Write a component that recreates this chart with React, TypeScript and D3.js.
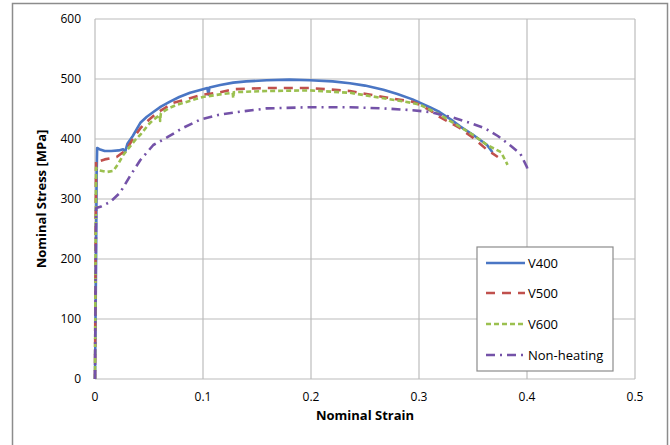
import React from "react";
import * as d3 from "d3";

const xTicks = [0, 0.1, 0.2, 0.3, 0.4, 0.5];
const yTicks = [0, 100, 200, 300, 400, 500, 600];

const v400: [number, number][] = [
  [0, 0], [0.001, 200], [0.0015, 340], [0.002, 385], [0.004, 383], [0.009, 380], [0.015, 380],
  [0.022, 381], [0.026, 383], [0.028, 379], [0.03, 392], [0.035, 405], [0.042, 427], [0.048, 437],
  [0.054, 445], [0.061, 454], [0.069, 462], [0.078, 470], [0.088, 477], [0.1, 483], [0.104, 485],
  [0.105, 474], [0.106, 486], [0.116, 490], [0.128, 494], [0.14, 496], [0.159, 498], [0.18, 499],
  [0.199, 498], [0.22, 496], [0.236, 493], [0.25, 489], [0.267, 482], [0.28, 475], [0.294, 466],
  [0.31, 453], [0.319, 445], [0.33, 432], [0.338, 421], [0.35, 407], [0.357, 398], [0.363, 390],
  [0.368, 378],
];

const v500: [number, number][] = [
  [0, 0], [0.0005, 200], [0.001, 365], [0.004, 363], [0.009, 366], [0.015, 368], [0.02, 370],
  [0.026, 378], [0.03, 385], [0.035, 400], [0.042, 418], [0.05, 432], [0.057, 443], [0.065, 452],
  [0.072, 460], [0.088, 468], [0.1, 474], [0.116, 478], [0.128, 483], [0.159, 485], [0.199, 485],
  [0.236, 480], [0.267, 470], [0.294, 462], [0.301, 457], [0.31, 448], [0.319, 437], [0.338, 418],
  [0.35, 402], [0.363, 382], [0.373, 370],
];

const v600: [number, number][] = [
  [0, 0], [0.0005, 200], [0.001, 352], [0.003, 348], [0.011, 345], [0.017, 347], [0.022, 360],
  [0.026, 373], [0.03, 382], [0.038, 400], [0.042, 407], [0.05, 425], [0.054, 432], [0.06, 440],
  [0.0603, 430], [0.061, 443], [0.069, 452], [0.076, 457], [0.094, 467], [0.1, 470], [0.118, 475],
  [0.1275, 477], [0.128, 468], [0.1285, 478], [0.159, 480], [0.199, 481], [0.236, 477],
  [0.267, 468], [0.294, 460], [0.301, 457], [0.31, 449], [0.319, 441], [0.338, 420], [0.35, 407],
  [0.363, 390], [0.376, 378], [0.382, 357],
];

const nonHeating: [number, number][] = [
  [0, 0], [0.0005, 150], [0.001, 285], [0.005, 287], [0.014, 295], [0.023, 310], [0.032, 337],
  [0.042, 365], [0.054, 390], [0.067, 403], [0.081, 418], [0.097, 432], [0.114, 440],
  [0.128, 444], [0.159, 451], [0.199, 453], [0.236, 453], [0.267, 451], [0.294, 448], [0.31, 445],
  [0.331, 436], [0.347, 427], [0.361, 418], [0.373, 405], [0.384, 390], [0.394, 375],
  [0.4, 353], [0.401, 343],
];

const seriesNames = ["V400", "V500", "V600", "Non-heating"];
const seriesData = [v400, v500, v600, nonHeating];
const seriesColors = ["#4a76c4", "#c0504d", "#9bc04f", "#7452a8"];
const seriesDash = ["none", "9,7", "5,3", "9,5,2,5"];

const W = 670;
const H = 445;
const left = 95;
const right = 635;
const top = 19;
const bottom = 379;
const FONT = "'Open Sans', 'Liberation Sans', sans-serif";

export default function App() {
  const x = d3.scaleLinear().domain([0, 0.5]).range([left, right]);
  const y = d3.scaleLinear().domain([0, 600]).range([bottom, top]);
  const line = d3
    .line<[number, number]>()
    .x((d) => x(d[0]))
    .y((d) => y(d[1]))
    .curve(d3.curveLinear);

  const legX = 477;
  const legY = 247;
  const legW = 136;
  const legH = 124;
  const rowYs = [263, 293, 324, 355];

  return (
    <svg
      width={W}
      height={H}
      style={{ position: "absolute", left: 0, top: 0, background: "#fff" }}
      fontFamily={FONT}
    >
      <rect x={12.5} y={3.5} width={655} height={445} fill="#fff" stroke="#8c8c8c" strokeWidth={1.5} />
      {/* grid */}
      {yTicks.map((t) => (
        <line key={"gy" + t} x1={left} x2={right} y1={y(t)} y2={y(t)} stroke="#bcbcbc" strokeWidth={1.2} />
      ))}
      {xTicks.map((t) => (
        <line key={"gx" + t} x1={x(t)} x2={x(t)} y1={top} y2={bottom} stroke="#bcbcbc" strokeWidth={1.2} />
      ))}
      {/* tick labels */}
      {yTicks.map((t) => (
        <text key={"ty" + t} x={81} y={y(t)} dy="0.35em" textAnchor="end" fontSize={12} fill="#000">
          {t}
        </text>
      ))}
      {xTicks.map((t) => (
        <text key={"tx" + t} x={x(t)} y={397} dy="0.35em" textAnchor="middle" fontSize={12} fill="#000">
          {d3.format("")(t)}
        </text>
      ))}
      {/* axis titles */}
      <text x={365} y={420} textAnchor="middle" fontSize={13} fontWeight="bold" fill="#000">
        Nominal Strain
      </text>
      <text
        transform={`translate(46,${(top + bottom) / 2}) rotate(-90)`}
        textAnchor="middle"
        fontSize={13}
        fontWeight="bold"
        fill="#000"
      >
        Nominal Stress [MPa]
      </text>
      {/* series (draw non-heating first so others are on top order like Excel reversed) */}
      {seriesData.map((d, i) => (
        <path
          key={"s" + i}
          d={line(d) || ""}
          fill="none"
          stroke={seriesColors[i]}
          strokeWidth={2.6}
          strokeDasharray={seriesDash[i]}
          strokeLinejoin="round"
        />
      ))}
      {/* legend */}
      <rect x={legX} y={legY} width={legW} height={legH} fill="#fff" stroke="#8c8c8c" strokeWidth={1.2} />
      {seriesNames.map((n, i) => (
        <g key={"l" + i}>
          <line
            x1={486}
            x2={525}
            y1={rowYs[i]}
            y2={rowYs[i]}
            stroke={seriesColors[i]}
            strokeWidth={2.6}
            strokeDasharray={seriesDash[i]}
          />
          <text x={528} y={rowYs[i]} dy="0.35em" fontSize={13} fill="#000">
            {n}
          </text>
        </g>
      ))}
    </svg>
  );
}
